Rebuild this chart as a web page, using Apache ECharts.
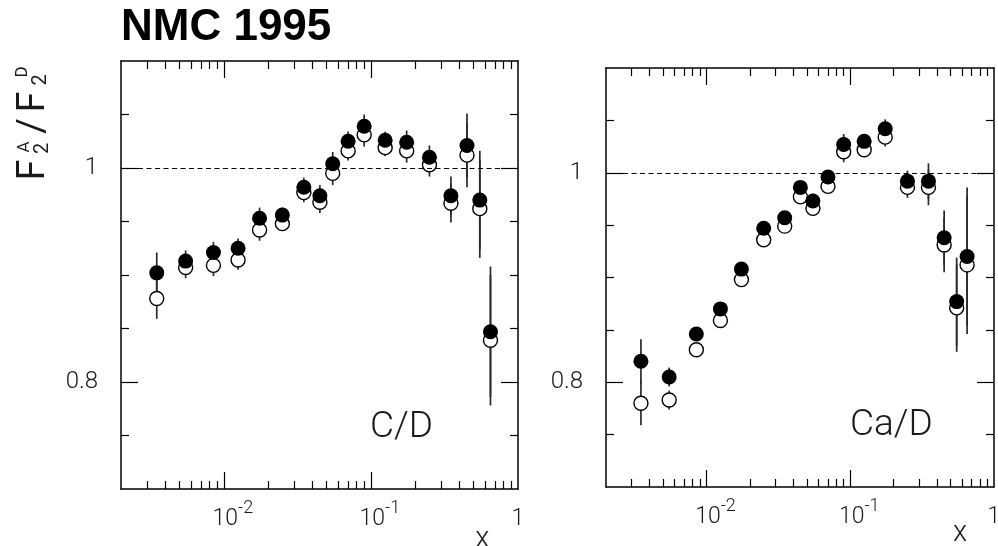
<!DOCTYPE html>
<html><head><meta charset="utf-8">
<script src="https://cdn.jsdelivr.net/npm/echarts@6/dist/echarts.min.js"></script>
<style>html,body{margin:0;padding:0;background:#fff}#chart{width:998px;height:546px}</style>
</head><body><div id="chart"></div>
<script>
// ---- data ----
const xBins = [0.0035, 0.0055, 0.0085, 0.0125, 0.0175, 0.025, 0.035, 0.045, 0.055, 0.07, 0.09, 0.125, 0.175, 0.25, 0.35, 0.45, 0.55, 0.65];

const cdFilled = [0.902, 0.913, 0.921, 0.925, 0.953, 0.956, 0.982, 0.974, 1.004, 1.025, 1.039, 1.026, 1.024, 1.010, 0.974, 1.021, 0.970, 0.847];
const cdOpen   = [0.878, 0.907, 0.909, 0.914, 0.942, 0.948, 0.977, 0.968, 0.995, 1.016, 1.031, 1.019, 1.016, 1.003, 0.967, 1.012, 0.962, 0.839];
const cdErr    = [0.019, 0.010, 0.010, 0.009, 0.010, 0.007, 0.009, 0.010, 0.011, 0.009, 0.011, 0.008, 0.011, 0.011, 0.018, 0.030, 0.046, 0.061];

const caFilled = [0.820, 0.805, 0.846, 0.870, 0.908, 0.947, 0.957, 0.986, 0.973, 0.996, 1.027, 1.030, 1.042, 0.992, 0.992, 0.938, 0.877, 0.920];
const caOpen   = [0.780, 0.783, 0.831, 0.859, 0.898, 0.936, 0.949, 0.977, 0.966, 0.987, 1.020, 1.022, 1.034, 0.986, 0.986, 0.931, 0.871, 0.912];
const caErr    = [0.021, 0.009, 0.006, 0.005, 0.005, 0.005, 0.005, 0.006, 0.007, 0.005, 0.010, 0.006, 0.009, 0.010, 0.017, 0.026, 0.042, 0.066];

const xMinorTicks = [0.003, 0.004, 0.005, 0.006, 0.007, 0.008, 0.009,
                     0.02, 0.03, 0.04, 0.05, 0.06, 0.07, 0.08, 0.09,
                     0.2, 0.3, 0.4, 0.5, 0.6, 0.7, 0.8, 0.9];
const xMajorTicks = [0.01, 0.1];
const xLabelTicks = [0.01, 0.1, 1];
const yMinorTicks = [0.75, 0.85, 0.9, 0.95, 1.05];
const yMajorTicks = [0.8, 1.0];
const yLabelTicks = [0.8, 1.0];
const panelNames = ['C/D', 'Ca/D'];
const unityLine = 1;

// ---- layout / style ----
const FONT = 'Roboto, "Liberation Sans", sans-serif';
const INK = '#000';
const TXT = '#1a1a1a';
const panels = [
  { grid: {left: 121, top: 61, width: 397, height: 428}, filled: cdFilled, open: cdOpen, err: cdErr, nameGap: -35.7, namePad: 36, label: {left: 370, top: 409} },
  { grid: {left: 606, top: 68, width: 388, height: 419}, filled: caFilled, open: caOpen, err: caErr, nameGap: -34, namePad: 32, label: {left: 850, top: 407} }
];

const grids = [], xAxes = [], yAxes = [], series = [];
const titles = [{
  text: 'NMC 1995', left: 121, top: 6, padding: 0,
  textStyle: {fontFamily: '"Liberation Sans", Arial, sans-serif', fontWeight: 'bold', fontSize: 44, color: '#000'}
}];

panels.forEach((p, gi) => {
  grids.push(Object.assign({outerBoundsMode: 'none', containLabel: false}, p.grid));
  const xb = xAxes.length, yb = yAxes.length;
  const mkX = (pos, ticks, len, withLine, withLabel, withName) => ({
    type: 'log', logBase: 10, min: 0.002, max: 1, gridIndex: gi, position: pos,
    axisLine: {show: withLine, onZero: false, lineStyle: {color: INK, width: 1.5}},
    axisTick: {show: true, inside: true, length: len, customValues: ticks, lineStyle: {color: INK, width: 1.2}},
    axisLabel: withLabel ? {
      show: true, customValues: xLabelTicks, margin: 10, color: TXT,
      formatter: v => {
        const e = Math.round(Math.log10(v));
        return e === 0 ? '{n|1}' : '{t|10}{s|' + e + '}';
      },
      rich: {
        n: {fontFamily: FONT, fontWeight: 300, fontSize: 23, color: TXT, lineHeight: 32, verticalAlign: 'bottom'},
        t: {fontFamily: FONT, fontWeight: 300, fontSize: 23, color: TXT, lineHeight: 32, verticalAlign: 'bottom', padding: [0, 0, 0, 18]},
        s: {fontFamily: FONT, fontWeight: 300, fontSize: 18, color: TXT, lineHeight: 18, verticalAlign: 'top'}
      }
    } : {show: false},
    name: withName ? 'x' : '', nameLocation: 'end', nameGap: p.nameGap,
    nameTextStyle: {fontFamily: FONT, fontWeight: 300, fontSize: 29, color: TXT, align: 'center', verticalAlign: 'top', padding: [p.namePad, 0, 0, 0]},
    splitLine: {show: false}, minorTick: {show: false}, minorSplitLine: {show: false}
  });
  xAxes.push(mkX('bottom', xMinorTicks, 8, true, true, true));
  xAxes.push(mkX('bottom', xMajorTicks, 17, false, false, false));
  xAxes.push(mkX('top', xMinorTicks, 8, true, false, false));
  xAxes.push(mkX('top', xMajorTicks, 17, false, false, false));

  const mkY = (pos, ticks, len, withLine, withLabel) => ({
    type: 'value', min: 0.7, max: 1.1, gridIndex: gi, position: pos,
    axisLine: {show: withLine, onZero: false, lineStyle: {color: INK, width: 1.5}},
    axisTick: {show: true, inside: true, length: len, customValues: ticks, lineStyle: {color: INK, width: 1.2}},
    axisLabel: withLabel ? {
      show: true, customValues: yLabelTicks, margin: 23, color: TXT,
      fontFamily: FONT, fontWeight: 300, fontSize: 24,
      formatter: v => Math.abs(v - 1) < 1e-6 ? '1' : v.toFixed(1)
    } : {show: false},
    splitLine: {show: false}
  });
  yAxes.push(mkY('left', yMinorTicks, 8, true, true));
  yAxes.push(mkY('left', yMajorTicks, 17, false, false));
  yAxes.push(mkY('right', yMinorTicks, 8, true, false));
  yAxes.push(mkY('right', yMajorTicks, 17, false, false));

  series.push({
    type: 'custom', xAxisIndex: xb, yAxisIndex: yb, z: 1, silent: true,
    data: xBins.map((x, i) => [x, p.filled[i], p.open[i], p.err[i]]),
    encode: {x: 0, y: 1},
    renderItem: (params, api) => {
      const x = api.value(0), yf = api.value(1), yo = api.value(2), e = api.value(3);
      const seg = (y) => {
        const a = api.coord([x, y + e]), b = api.coord([x, y - e]);
        return {type: 'line', shape: {x1: a[0], y1: a[1], x2: b[0], y2: b[1]}, style: {stroke: '#2a2a2a', lineWidth: 1.7}};
      };
      return {type: 'group', children: [seg(yf), seg(yo)]};
    }
  });
  series.push({
    type: 'scatter', xAxisIndex: xb, yAxisIndex: yb, z: 2, silent: true,
    symbol: 'circle', symbolSize: 14,
    itemStyle: {color: '#fff', borderColor: '#000', borderWidth: 1.4, opacity: 1},
    data: xBins.map((x, i) => [x, p.open[i]])
  });
  series.push({
    type: 'scatter', xAxisIndex: xb, yAxisIndex: yb, z: 3, silent: true,
    symbol: 'circle', symbolSize: 15,
    itemStyle: {color: '#000', opacity: 1},
    data: xBins.map((x, i) => [x, p.filled[i]]),
    markLine: {
      silent: true, symbol: ['none', 'none'], animation: false,
      label: {show: false},
      lineStyle: {type: [5, 3.5], color: '#000', width: 1.1},
      data: [{yAxis: unityLine}]
    }
  });

  titles.push({
    text: panelNames[gi], left: p.label.left, top: p.label.top, padding: 0,
    textStyle: {fontFamily: FONT, fontWeight: 300, fontSize: 37, color: TXT}
  });
});

// y-axis title  F2^A / F2^D  (rotated, reading bottom to top)
const rot = Math.PI / 2;
const ttl = (text, x, y, size) => ({
  type: 'text', x: x, y: y, rotation: rot, silent: true,
  style: {text: text, fontFamily: FONT, fontWeight: 400, fontSize: size, fill: TXT, align: 'center', verticalAlign: 'middle'}
});
const graphic = [
  ttl('F', 34, 170, 38), ttl('2', 42.5, 148.5, 20), ttl('A', 25, 147, 17),
  ttl('/', 34, 126, 38),
  ttl('F', 34, 102, 38), ttl('2', 40.5, 80, 20), ttl('D', 23, 72, 17)
];

const chart = echarts.init(document.getElementById('chart'), null, {renderer: 'canvas'});
chart.setOption({
  animation: false,
  backgroundColor: '#fff',
  title: titles,
  grid: grids,
  xAxis: xAxes,
  yAxis: yAxes,
  series: series,
  graphic: graphic
});
</script>
</body></html>
